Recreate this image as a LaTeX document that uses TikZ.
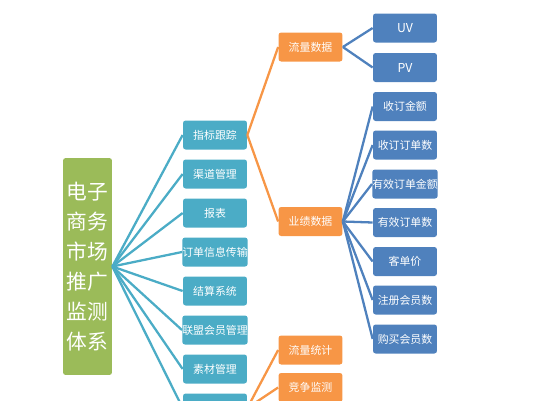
\documentclass[tikz,border=0pt]{standalone}
\usepackage{fontspec}
\setmainfont{Noto Sans CJK SC}
\definecolor{rootgreen}{HTML}{9BBB59}
\definecolor{itemteal}{HTML}{4BACC6}
\definecolor{groupora}{HTML}{F79646}
\definecolor{leafblue}{HTML}{4F81BD}
\begin{document}
\begin{tikzpicture}[x=0.02cm,y=-0.02cm,
% common options for boxes:
box/.style = {rounded corners=1.5pt, text=white, align=center, inner sep=0,
            minimum width=1.28cm, minimum height=0.58cm,
            font=\fontsize{6.2}{7}\selectfont},
% common options for the connectors:
link/.style = {line width=1.3pt}]
\useasboundingbox (0,0) rectangle (538,400);
\clip (0,0) rectangle (538,400);
\node[box,fill=rootgreen,minimum width=0.98cm,minimum height=4.34cm,
      font=\fontsize{11.8}{17}\selectfont] (R) at (87.5,266.5)
      {电子\\商务\\市场\\推广\\监测\\体系};
\node[box,fill=itemteal] (T1) at (215,135) {指标跟踪};
\node[box,fill=itemteal] (T2) at (215,174) {渠道管理};
\node[box,fill=itemteal] (T3) at (215,213) {报表};
\node[box,fill=itemteal] (T4) at (215,252) {订单信息传输};
\node[box,fill=itemteal] (T5) at (215,291) {结算系统};
\node[box,fill=itemteal] (T6) at (215,330) {联盟会员管理};
\node[box,fill=itemteal] (T7) at (215,369) {素材管理};
\node[box,fill=itemteal] (T8) at (215,408) {};
\node[box,fill=groupora] (O1) at (310.5,47) {流量数据};
\node[box,fill=groupora] (O2) at (310.5,221.5) {业绩数据};
\node[box,fill=groupora] (O3) at (310.5,350) {流量统计};
\node[box,fill=groupora] (O4) at (310.5,387.5) {竞争监测};
\node[box,fill=leafblue] (B1) at (405,28) {\fontsize{7}{8}\selectfont UV};
\node[box,fill=leafblue] (B2) at (405,67.5) {\fontsize{7}{8}\selectfont PV};
\node[box,fill=leafblue] (B3) at (405,106.5) {收订金额};
\node[box,fill=leafblue] (B4) at (405,145) {收订订单数};
\node[box,fill=leafblue] (B5) at (405,184) {有效订单金额};
\node[box,fill=leafblue] (B6) at (405,222.5) {有效订单数};
\node[box,fill=leafblue] (B7) at (405,261.5) {客单价};
\node[box,fill=leafblue] (B8) at (405,300) {注册会员数};
\node[box,fill=leafblue] (B9) at (405,339) {购买会员数};
\draw[link,itemteal] (R.east) to (T1.west);
\draw[link,itemteal] (R.east) to (T2.west);
\draw[link,itemteal] (R.east) to (T3.west);
\draw[link,itemteal] (R.east) to (T4.west);
\draw[link,itemteal] (R.east) to (T5.west);
\draw[link,itemteal] (R.east) to (T6.west);
\draw[link,itemteal] (R.east) to (T7.west);
\draw[link,itemteal] (R.east) to (T8.west);
\draw[link,groupora] (T1.east) to (O1.west);
\draw[link,groupora] (T1.east) to (O2.west);
\draw[link,groupora] (T8.east) to (O3.west);
\draw[link,groupora] (T8.east) to (O4.west);
\draw[link,leafblue] (O1.east) to (B1.west);
\draw[link,leafblue] (O1.east) to (B2.west);
\draw[link,leafblue] (O2.east) to (B3.west);
\draw[link,leafblue] (O2.east) to (B4.west);
\draw[link,leafblue] (O2.east) to (B5.west);
\draw[link,leafblue] (O2.east) to (B6.west);
\draw[link,leafblue] (O2.east) to (B7.west);
\draw[link,leafblue] (O2.east) to (B8.west);
\draw[link,leafblue] (O2.east) to (B9.west);
\end{tikzpicture}
\end{document}
